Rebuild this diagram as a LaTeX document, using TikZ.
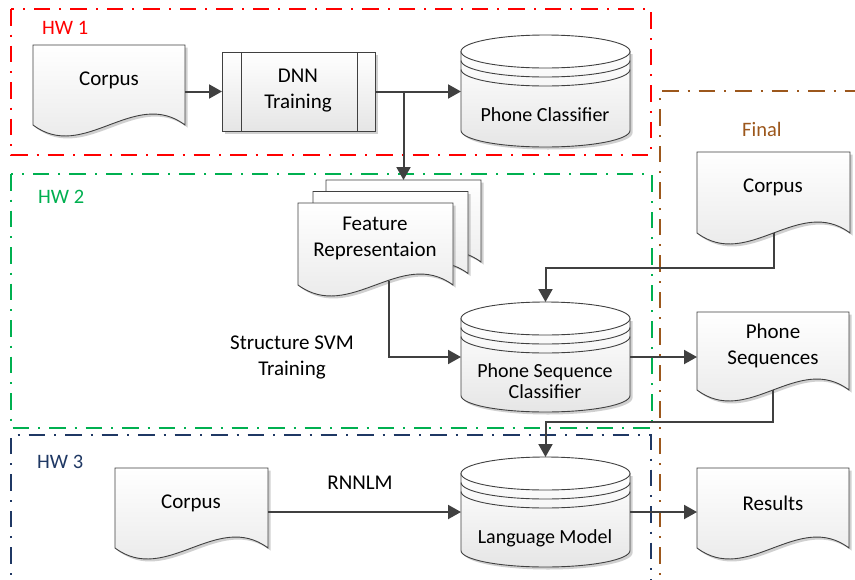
\documentclass[tikz,border=0pt]{standalone}
\usepackage{fontspec}
\setmainfont{Carlito}
\usetikzlibrary{arrows.meta,shadows}
\definecolor{hwred}{RGB}{255,0,0}
\definecolor{hwgreen}{RGB}{0,176,80}
\definecolor{hwnavy}{RGB}{31,56,100}
\definecolor{hwbrown}{RGB}{156,87,28}
\definecolor{ink}{RGB}{64,64,64}
\tikzset{
 frame/.style={line width=2pt, dash pattern=on 16.5pt off 9pt on 2pt off 9pt},
 shapefill/.style={draw=ink, line width=0.9pt, top color=white, bottom color=black!10},
 shad/.style={drop shadow={shadow xshift=2.5pt,shadow yshift=-2.5pt,opacity=0.3,fill=black!60}},
 conn/.style={draw=ink, line width=2pt, -{Triangle[length=13pt,width=14pt]}},
 anchorbox/.style={inner sep=0pt, outer sep=0pt, draw=none},
 txt/.style={font=\fontsize{21}{26}\selectfont, align=center, text=black, inner sep=0pt},
 ctxt/.style={font=\fontsize{20}{21}\selectfont, align=center, text=black, inner sep=0pt},
 lbl/.style={font=\fontsize{20.5}{24}\selectfont, inner sep=0pt, anchor=west},
}
\newcommand{\drawdoc}[5][]{%
 \path[shapefill,#1] (#2,#4) -- (#3,#4) -- (#3,#5) .. controls +({-(#3-#2)/3},-38) and +({(#3-#2)/3},38) .. (#2,#5) -- cycle;}
\newcommand{\drawcyl}[4]{%
 \pgfmathsetmacro\cylrx{(#2-#1)/2}%
 \pgfmathsetmacro\cylcx{(#2+#1)/2}%
 \path[shapefill,shad] (#1,#3+16.5) -- (#1,#4-16.5) arc[start angle=180,end angle=360,x radius=\cylrx pt,y radius=16.5pt] -- (#2,#3+16.5) -- cycle;
 \path[draw=ink,line width=0.9pt,fill=white] (\cylcx,#3+16.5) ellipse[x radius=\cylrx pt,y radius=16.5pt];
 \draw[ink,line width=0.9pt] (#1,#3+25.5) arc[start angle=180,end angle=360,x radius=\cylrx pt,y radius=16.5pt];
 \draw[ink,line width=0.9pt] (#1,#3+34.5) arc[start angle=180,end angle=360,x radius=\cylrx pt,y radius=16.5pt];
}
\begin{document}
\begin{tikzpicture}[x=1pt,y=-1pt]
\useasboundingbox (0,0) rectangle (855,579);
\clip (0,0) rectangle (855,579);
\fill[white] (0,0) rectangle (855,579);
% frames
\draw[frame,hwred] (11,9) rectangle (651,155);
\draw[frame,hwgreen] (11,174) rectangle (652,428);
\draw[frame,hwnavy] (11,600) -- (11,435) -- (651,435) -- (651,600);
\draw[frame,hwbrown] (660,600) -- (660,91) -- (870,91);
\node[lbl,text=hwred] (lhw1) at (42,28) {HW 1};
\node[lbl,text=hwgreen] (lhw2) at (38,197) {HW 2};
\node[lbl,text=hwnavy] (lhw3) at (37,462) {HW 3};
\node[lbl,text=hwbrown] (lfin) at (742,129) {Final};
% shapes
\drawdoc[shad]{33}{185}{45}{125}
\path[shapefill,shad] (222,52) rectangle (375,131);
\draw[ink,line width=0.9pt] (241,52) -- (241,131) (357,52) -- (357,131);
\drawcyl{461}{630}{35}{147}
\drawdoc[shad]{697}{850}{152}{233}
\drawdoc[shad]{326}{481}{180}{262}
\drawdoc[shad]{313}{468}{191.5}{273.5}
\drawdoc[shad]{298}{453}{203}{285}
\drawcyl{461}{630}{302}{412}
\drawdoc[shad]{697}{849}{312}{390}
\drawcyl{461}{630}{457}{567}
\drawdoc[shad]{115}{268}{468}{548}
\drawdoc[shad]{697}{849}{468}{548}
% anchor nodes
\node[anchorbox, minimum width=152pt, minimum height=80pt] (c1) at (109,85) {};
\node[anchorbox, minimum width=153pt, minimum height=79pt] (dnn) at (298.5,91.5) {};
\node[anchorbox, minimum width=169pt, minimum height=112pt] (pc) at (545.5,91) {};
\node[anchorbox, minimum width=153pt, minimum height=81pt] (fc) at (773.5,192.5) {};
\node[anchorbox, minimum width=182pt, minimum height=101pt] (fr) at (389,230.5) {};
\node[anchorbox, minimum width=155pt, minimum height=10pt, anchor=north] (fr3) at (403.5,180) {};
\node[anchorbox, minimum width=169pt, minimum height=110pt] (psc) at (545.5,357) {};
\node[anchorbox, minimum width=152pt, minimum height=78pt] (ps) at (773,351) {};
\node[anchorbox, minimum width=169pt, minimum height=110pt] (lm) at (545.5,512) {};
\node[anchorbox, minimum width=153pt, minimum height=80pt] (c3) at (191.5,508) {};
\node[anchorbox, minimum width=152pt, minimum height=80pt] (res) at (773,508) {};
% texts
\node[txt] (t1) at (109,80) {Corpus};
\node[txt] (t2) at (298,91) {DNN\\Training};
\node[ctxt] (t3) at (545,115) {Phone Classifier};
\node[txt] (t4) at (773,187) {Corpus};
\node[txt] (t5) at (375,238) {Feature\\Representaion};
\node[ctxt] (t6) at (545,381) {Phone Sequence\\Classifier};
\node[txt] (t7) at (773,346) {Phone\\Sequences};
\node[ctxt] (t8) at (545,538) {Language Model};
\node[txt] (t9) at (191,503) {Corpus};
\node[txt] (t10) at (773,503) {Results};
\node[txt] (t11) at (292,357) {Structure SVM\\Training};
\node[txt] (t12) at (360,483) {RNNLM};
% connectors
\draw[conn] (c1.east |- dnn.west) -- (dnn.west);
\draw[conn] (dnn.east) -- (dnn.east -| pc.west);
\coordinate (br) at (dnn.east -| fr3.north);
\draw[conn] (br) -- (fr3.north);
\draw[conn] (fr.south) |- (psc.west);
\draw[conn] (fc.south) -- ++(0,34.5) -| (psc.north);
\draw[conn] (psc.east) -- (psc.east -| ps.west);
\draw[conn] (ps.south) -- ++(0,32) -| (lm.north);
\draw[conn] (c3.east |- lm.west) -- (lm.west);
\draw[conn] (lm.east) -- (lm.east -| res.west);
\end{tikzpicture}
\end{document}
